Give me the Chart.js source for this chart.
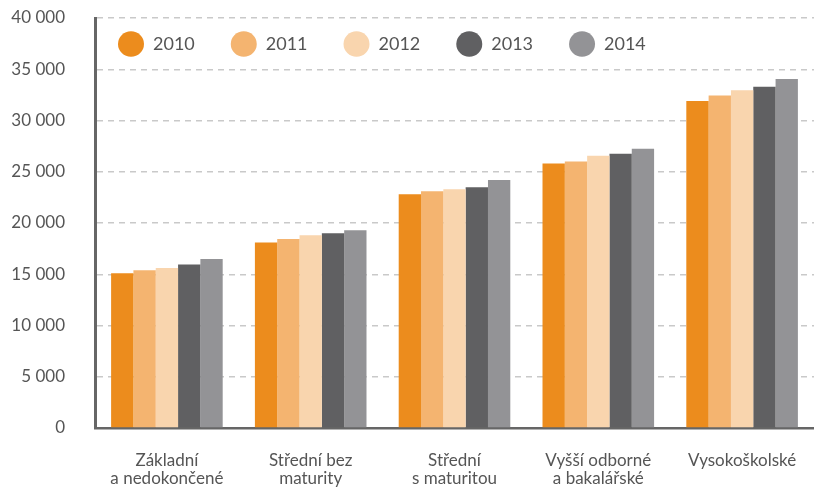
<!DOCTYPE html>
<html lang="cs">
<head>
    <meta charset="UTF-8">
    <title>Mzdy podle vzdělání</title>
    <style>
        body { margin: 0; background: #fff; }
        #wrap { width: 814px; height: 488px; position: relative; }
    </style>
</head>
<body>
    <div id="wrap"><canvas id="myChart"></canvas></div>
    <script src="https://cdn.jsdelivr.net/npm/chart.js"></script>
    <script>
    // data
    const categories = [
        ['Základní', 'a nedokončené'],
        ['Střední bez', 'maturity'],
        ['Střední', 's maturitou'],
        ['Vyšší odborné', 'a bakalářské'],
        'Vysokoškolské'
    ];
    const years = ['2010', '2011', '2012', '2013', '2014'];
    const v2010 = [15100, 18100, 22800, 25800, 31900];
    const v2011 = [15400, 18450, 23100, 26000, 32450];
    const v2012 = [15600, 18800, 23300, 26550, 32950];
    const v2013 = [15950, 19000, 23500, 26750, 33300];
    const v2014 = [16500, 19300, 24200, 27250, 34050];
    const yTicks = [0, 5000, 10000, 15000, 20000, 25000, 30000, 35000, 40000];

    const colors = ['#ec8c1d', '#f4b470', '#f9d5ae', '#606062', '#939396'];
    const series = [v2010, v2011, v2012, v2013, v2014];

    const fontFamily = 'Lato, "Noto Sans", sans-serif';
    const fmt = v => String(v).replace(/\B(?=(\d{3})+(?!\d))/g, ' ');

    // legend takes no room in the layout and is moved inside the plot area
    const legendInside = {
        id: 'legendInside',
        beforeLayout(chart) {
            const lg = chart.legend;
            if (lg && !lg._wrapped) {
                const fit = lg.fit;
                lg.fit = function () {
                    fit.call(this);
                    this._realH = this.height;
                    this.height = 0;
                };
                lg._wrapped = true;
            }
        },
        afterLayout(chart) {
            const lg = chart.legend;
            const pad = lg.options.labels.padding;
            lg.left = chart.chartArea.left + 23 - pad;
            lg.right = chart.width;
            lg.top = chart.chartArea.top + 17 - pad;
            lg.bottom = lg.top + lg._realH + pad;
        }
    };

    new Chart(document.getElementById('myChart'), {
        type: 'bar',
        data: {
            labels: categories,
            datasets: years.map((y, i) => ({
                label: y,
                data: series[i],
                backgroundColor: colors[i],
                borderWidth: 0,
                categoryPercentage: 0.776,
                barPercentage: 1.0
            }))
        },
        options: {
            responsive: true,
            maintainAspectRatio: false,
            animation: false,
            // the plot runs a few px past the right edge in the original
            layout: { padding: { top: 18, right: -5, left: 0, bottom: 0 } },
            plugins: {
                tooltip: { enabled: false },
                legend: {
                    position: 'top',
                    align: 'start',
                    labels: {
                        usePointStyle: true,
                        pointStyle: 'circle',
                        pointStyleWidth: 26,
                        padding: 36,
                        color: '#555',
                        font: { family: fontFamily, size: 18 }
                    }
                }
            },
            scales: {
                x: {
                    // invisible tick marks push the labels down without adding side padding
                    grid: {
                        display: true,
                        drawOnChartArea: false,
                        drawTicks: true,
                        tickLength: 22,
                        tickColor: 'rgba(0,0,0,0)'
                    },
                    border: { display: true, color: '#666', width: 2.5 },
                    ticks: {
                        color: '#555',
                        padding: 1,
                        maxRotation: 0,
                        autoSkip: false,
                        font: { family: fontFamily, size: 17, lineHeight: 1.08 }
                    },
                    afterFit(s) { s.height = 60; }
                },
                y: {
                    min: 0,
                    max: 40000,
                    afterBuildTicks(s) { s.ticks = yTicks.map(v => ({ value: v })); },
                    grid: {
                        color: '#c9c9c9',
                        lineWidth: 1.5,
                        drawTicks: true,
                        tickLength: 30,
                        tickColor: 'rgba(0,0,0,0)'
                    },
                    border: { display: true, color: '#666', width: 3, dash: [6, 5] },
                    ticks: {
                        color: '#555',
                        padding: 0,
                        font: { family: fontFamily, size: 17 },
                        callback: v => fmt(v)
                    },
                    afterFit(s) { s.width = 95; }
                }
            }
        },
        plugins: [legendInside]
    });
    </script>
</body>
</html>
